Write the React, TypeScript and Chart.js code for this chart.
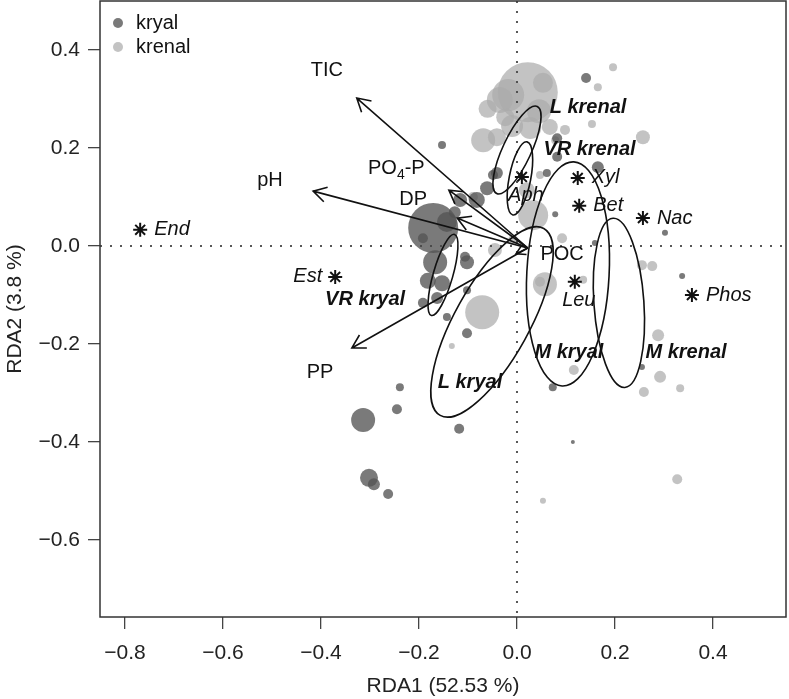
import React, { useEffect, useRef } from "react";
import { Chart, registerables } from "chart.js";
Chart.register(...registerables);

const FONT = "'Liberation Sans', Arial, Helvetica, sans-serif";

// axis limits & ticks
const xMin = -0.851;
const xMax = 0.549;
const yMin = -0.757;
const yMax = 0.5;
const xTicks = [-0.8, -0.6, -0.4, -0.2, 0, 0.2, 0.4];
const yTicks = [-0.6, -0.4, -0.2, 0, 0.2, 0.4];

// site scores: kryal
const kryalX = [0.141, -0.153, 0.165, 0.082, 0.082, 0.061, -0.049, -0.041, -0.061, -0.116, -0.082, -0.143, -0.171, -0.127, -0.192, -0.167, -0.182, -0.153, -0.102, -0.106, -0.192, -0.163, -0.102, -0.143, -0.102, -0.239, -0.245, -0.314, -0.302, -0.292, -0.263, -0.118, 0.073, 0.114, 0.078, 0.159, 0.302, 0.337, 0.255];
const kryalY = [0.343, 0.206, 0.161, 0.22, 0.182, 0.149, 0.145, 0.149, 0.118, 0.094, 0.094, 0.049, 0.037, 0.069, 0.016, -0.033, -0.071, -0.076, -0.033, -0.022, -0.116, -0.106, -0.09, -0.145, -0.178, -0.288, -0.333, -0.355, -0.473, -0.486, -0.506, -0.373, -0.288, -0.4, 0.065, 0.006, 0.027, -0.061, -0.247];
const kryalR = [5, 4, 6, 5, 5, 4, 5, 6, 7, 7, 8, 10, 25, 6, 5, 12, 8, 8, 7, 5, 5, 6, 4, 4, 5, 4, 5, 12, 9, 6, 5, 5, 4, 2, 3, 3, 3, 3, 3];

// site scores: krenal
const krenalX = [0.022, -0.018, 0.053, -0.035, 0.196, 0.165, 0.153, 0.067, 0.098, 0.078, -0.069, -0.041, -0.024, 0.027, 0.257, 0.047, -0.09, 0.033, 0.02, -0.045, -0.008, 0.092, 0.057, 0.047, 0.135, -0.071, -0.133, 0.255, 0.276, 0.288, 0.292, 0.259, 0.333, 0.116, 0.327, 0.053, 0.045, -0.01, -0.06];
const krenalY = [0.314, 0.308, 0.333, 0.298, 0.365, 0.324, 0.249, 0.243, 0.237, 0.216, 0.216, 0.222, 0.263, 0.241, 0.222, 0.145, 0.1, 0.063, 0.114, -0.008, 0.012, 0.016, -0.078, -0.073, -0.069, -0.135, -0.204, -0.039, -0.041, -0.182, -0.267, -0.298, -0.29, -0.253, -0.476, -0.52, 0.275, 0.245, 0.28];
const krenalR = [30, 16, 10, 13, 4, 4, 4, 8, 5, 4, 12, 9, 9, 11, 7, 4, 5, 15, 8, 7, 5, 5, 12, 5, 4, 17, 3, 5, 5, 6, 6, 5, 4, 5, 5, 3, 12, 11, 9];

// species scores
const speciesNames = ["End", "Est", "Aph", "Xyl", "Bet", "Nac", "Phos", "Leu"];
const speciesX = [-0.769, -0.371, 0.01, 0.124, 0.127, 0.257, 0.357, 0.118];
const speciesY = [0.033, -0.063, 0.141, 0.139, 0.082, 0.057, -0.1, -0.073];
const speciesPos = ["right", "left", "below", "right", "right", "right", "right", "below"];

// environmental vectors
const arrowOrigin = [0.022, -0.004];
const envNames = ["TIC", "pH", "PO4-P", "DP", "PP", "POC"];
const envX = [-0.327, -0.416, -0.139, -0.122, -0.337, -0.002];
const envY = [0.302, 0.112, 0.114, 0.057, -0.208, -0.016];
const envLabelX = [-0.388, -0.504, -0.304, -0.212, -0.402, 0.092];
const envLabelY = [0.359, 0.133, 0.159, 0.094, -0.259, -0.018];

// group ellipses
const groupNames = ["L krenal", "VR krenal", "VR kryal", "L kryal", "M kryal", "M krenal"];
const groupCx = [0.0, 0.006, -0.151, -0.051, 0.104, 0.208];
const groupCy = [0.196, 0.138, -0.059, -0.155, -0.057, -0.116];
const groupA = [0.098, 0.076, 0.086, 0.218, 0.229, 0.173];
const groupB = [0.029, 0.022, 0.02, 0.076, 0.084, 0.051];
const groupTilt = [25, 11, 16, 29, 3, -4];
const groupLabelX = [0.145, 0.148, -0.31, -0.096, 0.106, 0.345];
const groupLabelY = [0.282, 0.196, -0.11, -0.278, -0.218, -0.218];

const legendNames = ["kryal", "krenal"];
const kryalColor = "rgba(85,85,85,0.78)";
const krenalColor = "rgba(172,172,172,0.72)";

const fmt = (v: number) => (v < 0 ? "\u2212" + Math.abs(v).toFixed(1) : v.toFixed(1));

const overlay = {
  id: "overlay",
  afterDatasetsDraw(chart: any) {
    const { ctx, chartArea: ca, scales } = chart;
    const sx = scales.x;
    const sy = scales.y;
    const px = (v: number) => sx.getPixelForValue(v);
    const py = (v: number) => sy.getPixelForValue(v);
    const unit = px(1) - px(0);
    ctx.save();

    // dotted zero lines
    ctx.strokeStyle = "rgba(70,70,70,0.9)";
    ctx.lineWidth = 2;
    ctx.setLineDash([2, 8]);
    ctx.beginPath();
    ctx.moveTo(px(0), ca.top);
    ctx.lineTo(px(0), ca.bottom);
    ctx.moveTo(ca.left, py(0));
    ctx.lineTo(ca.right, py(0));
    ctx.stroke();
    ctx.setLineDash([]);

    // ellipses
    ctx.strokeStyle = "#111";
    ctx.lineWidth = 1.6;
    for (let i = 0; i < groupNames.length; i++) {
      ctx.beginPath();
      ctx.ellipse(px(groupCx[i]), py(groupCy[i]), groupB[i] * unit, groupA[i] * unit, (groupTilt[i] * Math.PI) / 180, 0, Math.PI * 2);
      ctx.stroke();
    }

    // arrows
    const ox = px(arrowOrigin[0]);
    const oy = py(arrowOrigin[1]);
    ctx.lineWidth = 1.6;
    for (let i = 0; i < envNames.length; i++) {
      const hx = px(envX[i]);
      const hy = py(envY[i]);
      ctx.beginPath();
      ctx.moveTo(ox, oy);
      ctx.lineTo(hx, hy);
      const ang = Math.atan2(hy - oy, hx - ox);
      const len = Math.hypot(hx - ox, hy - oy);
      const hl = Math.min(15, len * 0.8);
      ctx.moveTo(hx - hl * Math.cos(ang - Math.PI / 6), hy - hl * Math.sin(ang - Math.PI / 6));
      ctx.lineTo(hx, hy);
      ctx.lineTo(hx - hl * Math.cos(ang + Math.PI / 6), hy - hl * Math.sin(ang + Math.PI / 6));
      ctx.stroke();
    }

    // env labels
    ctx.fillStyle = "#111";
    ctx.textBaseline = "middle";
    for (let i = 0; i < envNames.length; i++) {
      const lx = px(envLabelX[i]);
      const ly = py(envLabelY[i]);
      const name = envNames[i];
      if (name === "PO4-P") {
        ctx.textAlign = "left";
        ctx.font = `20px ${FONT}`;
        ctx.fillText("PO", lx, ly);
        const w1 = ctx.measureText("PO").width;
        ctx.font = `14px ${FONT}`;
        ctx.fillText("4", lx + w1, ly + 7);
        const w2 = ctx.measureText("4").width;
        ctx.font = `20px ${FONT}`;
        ctx.fillText("-P", lx + w1 + w2, ly);
      } else {
        ctx.textAlign = "center";
        ctx.font = `20px ${FONT}`;
        ctx.fillText(name, lx, ly);
      }
    }

    // species labels
    ctx.font = `italic 20px ${FONT}`;
    for (let i = 0; i < speciesNames.length; i++) {
      const sxp = px(speciesX[i]);
      const syp = py(speciesY[i]);
      const pos = speciesPos[i];
      if (pos === "right") {
        ctx.textAlign = "left";
        ctx.fillText(speciesNames[i], sxp + 14, syp);
      } else if (pos === "left") {
        ctx.textAlign = "right";
        ctx.fillText(speciesNames[i], sxp - 13, syp);
      } else {
        ctx.textAlign = "center";
        ctx.fillText(speciesNames[i], sxp + 4, syp + 19);
      }
    }

    // group labels
    ctx.font = `italic bold 20px ${FONT}`;
    ctx.textAlign = "center";
    for (let i = 0; i < groupNames.length; i++) {
      ctx.fillText(groupNames[i], px(groupLabelX[i]), py(groupLabelY[i]));
    }

    // legend
    const cols = [kryalColor, krenalColor];
    ctx.font = `20px ${FONT}`;
    ctx.textAlign = "left";
    for (let i = 0; i < legendNames.length; i++) {
      const ly = ca.top + 22 + i * 24;
      ctx.fillStyle = cols[i];
      ctx.beginPath();
      ctx.arc(ca.left + 18, ly, 5, 0, Math.PI * 2);
      ctx.fill();
      ctx.fillStyle = "#111";
      ctx.fillText(legendNames[i], ca.left + 36, ly);
    }

    // box
    ctx.strokeStyle = "#333";
    ctx.lineWidth = 1.5;
    ctx.strokeRect(ca.left, ca.top, ca.right - ca.left, ca.bottom - ca.top);
    ctx.restore();
  },
};

const zeroPad = (s: any) => {
  s.paddingTop = 0;
  s.paddingBottom = 0;
  s.paddingLeft = 0;
  s.paddingRight = 0;
};

export default function App() {
  const ref = useRef<HTMLCanvasElement>(null);
  useEffect(() => {
    if (!ref.current) return;
    const kryal = kryalX.map((x, i) => ({ x, y: kryalY[i], r: kryalR[i] }));
    const krenal = krenalX.map((x, i) => ({ x, y: krenalY[i], r: krenalR[i] }));
    const species = speciesX.map((x, i) => ({ x, y: speciesY[i] }));
    const chart = new Chart(ref.current, {
      type: "bubble",
      data: {
        datasets: [
          { type: "scatter", label: "species", data: species, pointStyle: "star", radius: 7, borderColor: "#111", borderWidth: 2, backgroundColor: "#111", order: 0 } as any,
          { label: "kryal", data: kryal, backgroundColor: kryalColor, borderWidth: 0, order: 1 },
          { label: "krenal", data: krenal, backgroundColor: krenalColor, borderWidth: 0, order: 2 },
        ],
      },
      options: {
        animation: false,
        responsive: true,
        maintainAspectRatio: false,
        layout: { autoPadding: false, padding: { top: 1, right: 3, left: 0, bottom: 0 } },
        plugins: { legend: { display: false }, tooltip: { enabled: false } },
        scales: {
          x: {
            type: "linear",
            min: xMin,
            max: xMax,
            afterBuildTicks: (s: any) => {
              s.ticks = xTicks.map((v) => ({ value: v }));
            },
            afterFit: (s: any) => {
              s.height = 82;
              zeroPad(s);
            },
            grid: { drawOnChartArea: false, drawTicks: true, tickLength: 12, color: "#444", lineWidth: 1.3 },
            border: { display: false },
            ticks: { padding: 12, color: "#222", autoSkip: false, maxRotation: 0, font: { family: FONT, size: 21 }, callback: (v: any) => fmt(Number(v)) },
            title: { display: true, text: "RDA1 (52.53 %)", color: "#222", font: { family: FONT, size: 21 }, padding: { top: 0, bottom: 0 } },
          },
          y: {
            type: "linear",
            min: yMin,
            max: yMax,
            afterBuildTicks: (s: any) => {
              s.ticks = yTicks.map((v) => ({ value: v }));
            },
            afterFit: (s: any) => {
              s.width = 100;
              zeroPad(s);
            },
            grid: { drawOnChartArea: false, drawTicks: true, tickLength: 12, color: "#444", lineWidth: 1.3 },
            border: { display: false },
            ticks: { padding: 8, color: "#222", autoSkip: false, font: { family: FONT, size: 21 }, callback: (v: any) => fmt(Number(v)) },
            title: { display: true, text: "RDA2 (3.8 %)", color: "#222", font: { family: FONT, size: 21 }, padding: { top: 3, bottom: 3 } },
          },
        },
      },
      plugins: [overlay],
    } as any);
    return () => chart.destroy();
  }, []);
  return (
    <div style={{ position: "absolute", left: 0, top: 0, width: 789, height: 699, background: "#fff" }}>
      <canvas ref={ref} />
    </div>
  );
}
